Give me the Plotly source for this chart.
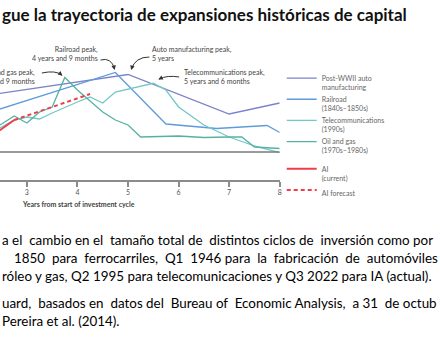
import plotly.graph_objects as go

W, H = 440, 346
def px(x): return x / W
def py(y): return 1 - y / H

# ---------------- data (years from start of cycle, index level) ----------------
auto_x = [2.25, 5.0, 7.0, 8.0]
auto_y = [57, 77.5, 38, 49]

rail_x = [2.25, 4.75, 5.75, 6.75, 7.75, 8.0]
rail_y = [39.5, 79.5, 28, 23.5, 26.5, 19.5]

tel_x = [2.25, 2.5, 2.75, 3.0, 3.25, 3.5, 4.0, 4.25, 4.5, 4.75, 5.5, 5.75, 6.0, 6.5, 7.0, 7.5, 8.0]
tel_y = [20, 25, 32, 35, 33, 39, 50, 55, 49, 60, 68.7, 62, 45, 27, 15, 6, -0.7]

oil_x = [2.25, 2.5, 2.75, 3.0, 3.25, 3.5, 3.75, 4.0, 4.5, 4.75, 5.0, 5.25, 6.0, 6.5, 7.0, 7.25, 7.5, 8.0]
oil_y = [22, 28, 36, 29, 40, 45, 74.5, 62, 40, 32, 27, 15, 16, 14.5, 15, 15, 5, 3.5]

ai_x = [2.25, 2.5, 2.75]
ai_y = [15, 23, 32]

aif_x = [2.75, 4.25]
aif_y = [32, 58]

tick_vals = [3, 4, 5, 6, 7, 8]
tick_text = ["3", "4", "5", "6", "7", "8"]

# ---------------- styles ----------------
C_AUTO = "#7c83c8"
C_RAIL = "#5f9bdc"
C_TEL = "#72c7c7"
C_OIL = "#55b2a2"
C_AI = "#ef3e4a"
FONT = "Lato"

fig = go.Figure()
def add(x, y, name, color, group, dash=None, width=1.3):
    fig.add_trace(go.Scatter(x=x, y=y, mode="lines", name=name, legendgroup=group,
                             line=dict(color=color, width=width, dash=dash)))

add(auto_x, auto_y, "Post-WWII auto<br>manufacturing", C_AUTO, "h")
add(rail_x, rail_y, "Railroad<br>(1840s–1850s)", C_RAIL, "h")
add(tel_x, tel_y, "Telecommunications<br>(1990s)", C_TEL, "h")
add(oil_x, oil_y, "Oil and gas<br>(1970s–1980s)", C_OIL, "h")
add(ai_x, ai_y, "AI<br>(current)", C_AI, "ai", width=2)
add(aif_x, aif_y, "AI forecast", C_AI, "ai", dash="4px,3px", width=2)

x0 = 3 - 27 / 50.8
fig.update_layout(
    width=W, height=H, margin=dict(l=0, r=0, t=0, b=0),
    paper_bgcolor="white", plot_bgcolor="rgba(0,0,0,0)",
    font=dict(family=FONT, size=7, color="#555"),
    showlegend=True,
    legend=dict(x=px(283), y=py(67), xanchor="left", yanchor="top",
                bgcolor="rgba(0,0,0,0)", font=dict(size=7, color="#666", family=FONT),
                traceorder="grouped", tracegroupgap=6, valign="top"),
    xaxis=dict(domain=[0, px(281)], range=[x0, 8], anchor="free", position=py(181),
               showgrid=False, zeroline=False, showline=True, linecolor="#8c8c8c", linewidth=1.5,
               ticks="outside", ticklen=5, tickwidth=1.5, tickcolor="#8c8c8c",
               tickvals=tick_vals, ticktext=tick_text,
               tickfont=dict(size=7, color="#555", family=FONT)),
    yaxis=dict(domain=[py(157), py(42)], range=[-5, 110], visible=False),
)

# baseline
fig.add_shape(type="line", xref="x", yref="y", x0=x0, x1=8, y0=0, y1=0,
              line=dict(color="#7a7a7a", width=1.5))

ann = []
def text(x, y, t, size=7, anchor="left", align="left", color="#444", bold=False, family=FONT):
    ann.append(dict(x=px(x), y=py(y), xref="paper", yref="paper", text=t, showarrow=False,
                    xanchor=anchor, yanchor="middle", align=align,
                    font=dict(size=size, color=color, family=family,
                              weight="bold" if bold else "normal")))

# title
text(0, 14, "gue la trayectoria de expansiones históricas de capital", size=17, color="#111", bold=True)

# peak labels
text(100, 54, "Railroad peak,<br>4 years and 9 months", anchor="right", align="right")
text(37, 76.5, "Oil and gas peak,<br>3 years and 9 months", anchor="right", align="right")
text(151, 54, "Auto manufacturing peak,<br>5 years")
text(183, 76.5, "Telecommunications peak,<br>5 years and 6 months")

# axis title
text(20, 204, "Years from start of investment cycle", size=7, color="#444", bold=True)

# paragraph (justified lines widened with non-breaking spaces)
PF = "Lato"
PS = 13.4
N = "\u00a0"
def just(words, extra):
    out = words[0]
    for i, w in enumerate(words[1:]):
        out += " " + N * extra[i % len(extra)] + w
    return out

l1 = just("a el cambio en el tamaño total de distintos ciclos de inversión como por".split(), [0, 1, 0])
l2 = just("1850 para ferrocarriles, Q1 1946 para la fabricación de automóviles".split(), [1, 1, 1, 1, 0, 1, 1, 1, 1])
l3 = "róleo y gas, Q2 1995 para telecomunicaciones y Q3 2022 para IA (actual)."
l4 = just("uard, basados en datos del Bureau of Economic Analysis, a 31 de octub".split(), [1, 0])
l5 = "Pereira et al. (2014)."
text(0, 240, l1, size=PS, color="#000", family=PF)
text(12, 258, l2, size=PS, color="#000", family=PF)
text(0, 276, l3, size=PS, color="#000", family=PF)
text(0, 303, l4, size=PS, color="#000", family=PF)
text(0, 321, l5, size=PS, color="#000", family=PF)

# curved arrows
curves = [((101, 60), (112, 57), (115, 69)),
          ((42, 73), (56, 70), (62, 75)),
          ((150, 57), (136, 57), (132, 69)),
          ((180, 77), (168, 75), (160, 79))]
for (a, c, b) in curves:
    fig.add_shape(type="path", xref="paper", yref="paper",
                  path=f"M {px(a[0])},{py(a[1])} Q {px(c[0])},{py(c[1])} {px(b[0])},{py(b[1])}",
                  line=dict(color="#333", width=1))
    dx, dy = b[0] - c[0], b[1] - c[1]
    n = (dx * dx + dy * dy) ** 0.5
    ann.append(dict(x=px(b[0] + dx / n), y=py(b[1] + dy / n), xref="paper", yref="paper", text="",
                    showarrow=True, arrowhead=2, arrowsize=0.9, arrowwidth=1, arrowcolor="#333",
                    ax=-dx / n * 4, ay=-dy / n * 4, standoff=0))

fig.update_layout(annotations=ann)
fig.write_html("out.html")
